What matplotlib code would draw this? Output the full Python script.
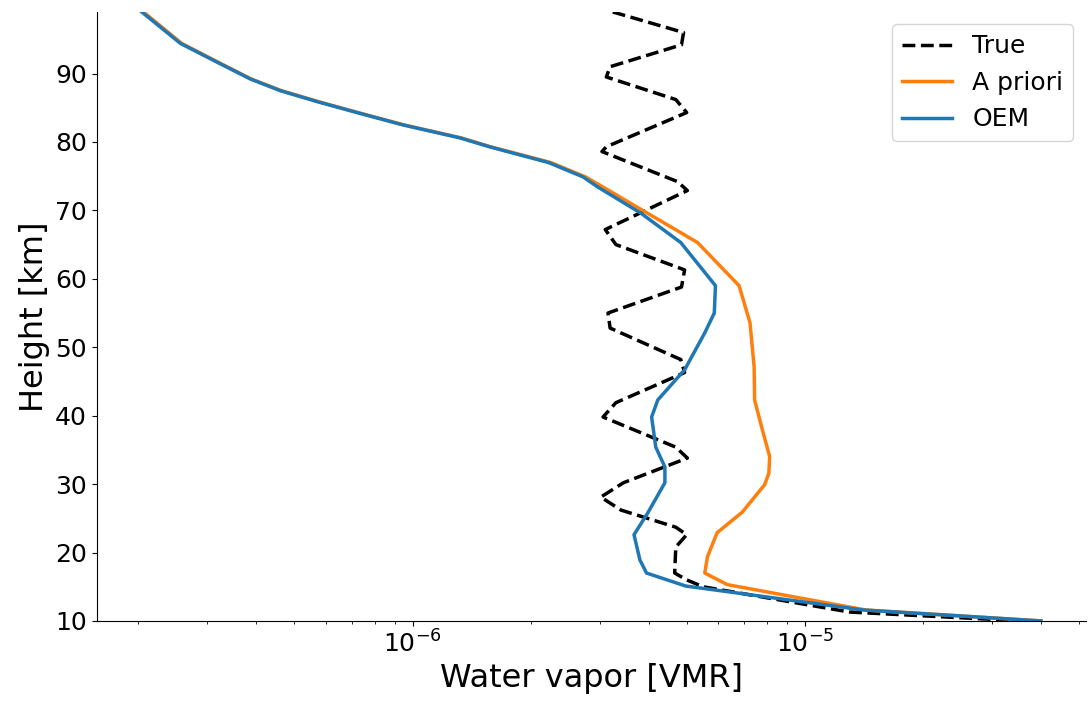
import matplotlib
matplotlib.use('Agg')
import matplotlib.pyplot as plt

# heights [km] and water vapour VMR
z_true = [99.0, 96.0, 94.2, 91.0, 89.5, 86.2, 84.3, 79.3, 78.6, 74.2, 72.9,
          67.2, 65.0, 61.3, 58.8, 55.0, 52.8, 48.2, 46.3, 41.9, 39.8, 35.4,
          33.8, 30.2, 28.1, 26.2, 23.7, 22.6, 20.8, 17.0, 16.0, 15.0, 11.3, 10.0]
vmr_true = [3.24e-6, 4.91e-6, 4.85e-6, 3.19e-6, 3.12e-6, 4.69e-6, 5.0e-6,
            3.12e-6, 3.04e-6, 4.74e-6, 5.02e-6, 3.1e-6, 3.3e-6, 4.94e-6,
            4.85e-6, 3.15e-6, 3.19e-6, 4.83e-6, 4.94e-6, 3.3e-6, 3.06e-6,
            4.69e-6, 5.02e-6, 3.45e-6, 3.02e-6, 3.4e-6, 4.69e-6, 5.0e-6,
            4.69e-6, 4.66e-6, 5.0e-6, 5.5e-6, 1.3e-5, 3.6e-5]

z_apriori = [99.0, 94.4, 91.6, 89.2, 87.5, 85.9, 84.3, 82.5, 80.6, 79.3,
             77.0, 74.9, 73.6, 69.6, 65.3, 59.0, 53.6, 47.1, 42.3, 37.9,
             34.0, 31.6, 29.9, 25.9, 22.9, 19.4, 17.0, 15.3, 11.6, 10.0]
vmr_apriori = [2.06e-7, 2.58e-7, 3.21e-7, 3.88e-7, 4.63e-7, 5.75e-7, 7.26e-7,
               9.5e-7, 1.33e-6, 1.58e-6, 2.25e-6, 2.76e-6, 3.02e-6, 3.97e-6,
               5.33e-6, 6.8e-6, 7.25e-6, 7.43e-6, 7.45e-6, 7.8e-6, 8.14e-6,
               8.1e-6, 7.9e-6, 6.93e-6, 5.98e-6, 5.65e-6, 5.56e-6, 6.35e-6,
               1.43e-5, 4.0e-5]

z_oem = [99.0, 94.4, 91.6, 89.2, 87.5, 85.9, 84.3, 82.5, 80.6, 79.3, 77.0,
         74.9, 73.4, 69.6, 65.3, 59.0, 55.0, 52.1, 46.7, 42.3, 39.8, 35.4,
         32.5, 30.2, 25.8, 22.6, 18.9, 17.0, 15.1, 11.6, 10.0]
vmr_oem = [2.04e-7, 2.56e-7, 3.19e-7, 3.86e-7, 4.6e-7, 5.71e-7, 7.21e-7,
           9.44e-7, 1.32e-6, 1.57e-6, 2.22e-6, 2.72e-6, 2.97e-6, 3.82e-6,
           4.83e-6, 5.92e-6, 5.88e-6, 5.56e-6, 4.94e-6, 4.22e-6, 4.07e-6,
           4.17e-6, 4.4e-6, 4.4e-6, 3.98e-6, 3.67e-6, 3.8e-6, 3.95e-6,
           4.97e-6, 1.41e-5, 4.0e-5]

fig = plt.figure(figsize=(10.88, 7.04), dpi=100)
ax = fig.add_axes([0.089, 0.118, 0.909, 0.865])

ax.plot(vmr_true, z_true, '--', color='k', lw=2.5, label='True')
ax.plot(vmr_apriori, z_apriori, color='#ff7f0e', lw=2.5, label='A priori')
ax.plot(vmr_oem, z_oem, color='#1f77b4', lw=2.5, label='OEM')

ax.set_xscale('log')
ax.set_ylim(10, 99)
ax.set_yticks([10, 20, 30, 40, 50, 60, 70, 80, 90])
ax.spines['top'].set_visible(False)
ax.spines['right'].set_visible(False)
ax.tick_params(labelsize=18)
ax.set_xlabel('Water vapor [VMR]', fontsize=23)
ax.set_ylabel('Height [km]', fontsize=23)
ax.legend(loc='upper right', fontsize=18)

fig.savefig('out.png', dpi=100)
